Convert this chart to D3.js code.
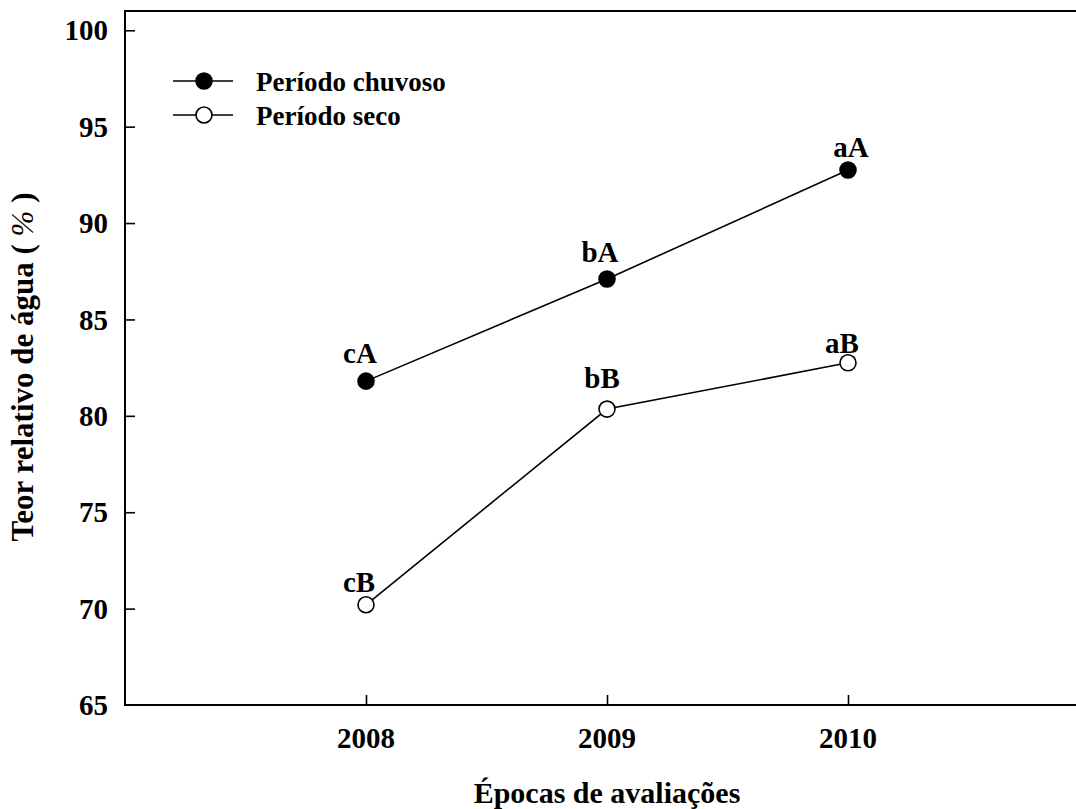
<!DOCTYPE html>
<html>
<head>
<meta charset="utf-8">
<script src="https://cdn.jsdelivr.net/npm/d3@7"></script>
<style>
  html, body { margin: 0; padding: 0; background: #fff; }
  svg { display: block; }
  text { font-family: "Liberation Serif", "Times New Roman", serif; font-weight: bold; fill: #000; }
</style>
</head>
<body>
<svg id="chart" width="1076" height="809"></svg>
<script>
// Water content over the evaluation years, rainy vs dry season
const years = [2008, 2009, 2010];
const rainy = [81.8, 87.1, 92.75];
const dry = [70.2, 80.35, 82.75];
const rainyLetters = ["cA", "bA", "aA"];
const dryLetters = ["cB", "bB", "aB"];
const yTicks = [65, 70, 75, 80, 85, 90, 95, 100];
const seriesNames = ["Período chuvoso", "Período seco"];

const svg = d3.select("#chart");
const plotLeft = 125, plotTop = 11, plotBottom = 705;

const x = d3.scaleLinear().domain([2007, 2011]).range([plotLeft, 1089]);
const y = d3.scaleLinear().domain([65, 101]).range([plotBottom, plotTop]);

// frame (right side runs past the canvas)
svg.append("path")
  .attr("d", `M${x.range()[1]},${plotTop}H${plotLeft}V${plotBottom}H${x.range()[1]}`)
  .attr("fill", "none").attr("stroke", "#000").attr("stroke-width", 2);

// y axis: ticks pointing inward
const yAxis = d3.axisRight(y).tickValues(yTicks).tickSize(10).tickFormat("");
const gy = svg.append("g").attr("transform", `translate(${plotLeft},0)`).call(yAxis);
gy.select(".domain").remove();
gy.selectAll(".tick line").attr("stroke", "#000").attr("stroke-width", 1.6);
gy.selectAll(".tick").filter(d => d === 65).select("line").remove();
svg.append("g").selectAll("text").data(yTicks).join("text")
  .attr("x", 108).attr("y", d => y(d)).attr("dy", "0.35em")
  .attr("text-anchor", "end").attr("font-size", 29).text(d => d);

// x axis: ticks pointing inward
const xAxis = d3.axisTop(x).tickValues(years).tickSize(10).tickFormat("");
const gx = svg.append("g").attr("transform", `translate(0,${plotBottom})`).call(xAxis);
gx.select(".domain").remove();
gx.selectAll(".tick line").attr("stroke", "#000").attr("stroke-width", 1.6);
svg.append("g").selectAll("text").data(years).join("text")
  .attr("x", d => x(d)).attr("y", 748)
  .attr("text-anchor", "middle").attr("font-size", 29).text(d => d);

// axis titles
svg.append("text")
  .attr("x", 607).attr("y", 803).attr("text-anchor", "middle")
  .attr("font-size", 30).text("Épocas de avaliações");

const yt = svg.append("text")
  .attr("transform", "translate(33,367) rotate(-90)")
  .attr("text-anchor", "middle").attr("font-size", 31);
yt.append("tspan").text("Teor relativo de água ( ");
yt.append("tspan").attr("font-style", "italic").attr("font-weight", "normal").text("%");
yt.append("tspan").text(" )");

// series
const line = d3.line().x((d, i) => x(years[i])).y(d => y(d));
const series = [
  { values: rainy, letters: rainyLetters, fill: "#000",
    offsets: [[-6, -18], [-7, -17], [3, -13]] },
  { values: dry, letters: dryLetters, fill: "#fff",
    offsets: [[-7, -13], [-5, -21], [-6, -10]] }
];

series.forEach(s => {
  svg.append("path").datum(s.values).attr("d", line)
    .attr("fill", "none").attr("stroke", "#000").attr("stroke-width", 1.6);
  svg.append("g").selectAll("circle").data(s.values).join("circle")
    .attr("cx", (d, i) => x(years[i])).attr("cy", d => y(d)).attr("r", 8)
    .attr("fill", s.fill).attr("stroke", "#000").attr("stroke-width", 1.6);
  svg.append("g").selectAll("text").data(s.values).join("text")
    .attr("x", (d, i) => x(years[i]) + s.offsets[i][0])
    .attr("y", (d, i) => y(d) + s.offsets[i][1])
    .attr("text-anchor", "middle").attr("font-size", 29)
    .text((d, i) => s.letters[i]);
});

// legend
const legendRows = [81, 115];
seriesNames.forEach((name, i) => {
  const g = svg.append("g").attr("transform", `translate(0,${legendRows[i]})`);
  g.append("line").attr("x1", 173).attr("x2", 233).attr("y1", 0).attr("y2", 0)
    .attr("stroke", "#000").attr("stroke-width", 1.6);
  g.append("circle").attr("cx", 204).attr("cy", 0).attr("r", 8)
    .attr("fill", series[i].fill).attr("stroke", "#000").attr("stroke-width", 1.6);
  g.append("text").attr("x", 256).attr("y", 0).attr("dy", "0.36em")
    .attr("font-size", 27).text(name);
});
</script>
</body>
</html>
